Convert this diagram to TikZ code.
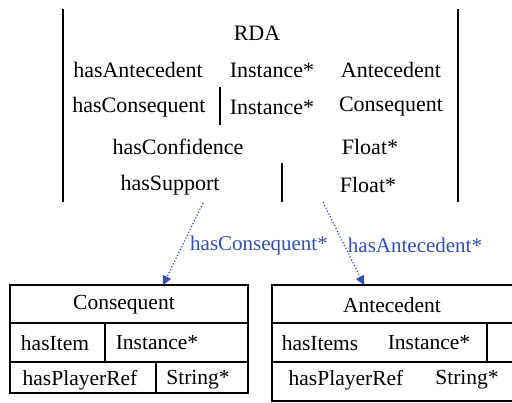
\documentclass[tikz,border=0pt]{standalone}
\usepackage{fontspec}
\setmainfont{Liberation Serif}
\usetikzlibrary{arrows.meta}
\definecolor{linkblue}{RGB}{52,78,176}
\begin{document}
\begin{tikzpicture}[x=1pt,y=-1pt,
  line width=1.6pt,
  toptext/.style={font=\fontsize{22}{24}\selectfont, inner sep=0pt, anchor=center},
  bottext/.style={font=\fontsize{21.5}{23}\selectfont, inner sep=0pt, anchor=center},
  linktext/.style={font=\fontsize{21}{23}\selectfont, text=linkblue, inner sep=0pt, anchor=center},
  link/.style={draw=linkblue, line width=1.2pt, dotted, -{Triangle[length=9pt,width=9pt]}},
  tbox/.style={draw, line width=1.6pt, inner sep=0pt, minimum width=#1, minimum height=108pt}
]
\useasboundingbox (0,0) rectangle (512,403);
% top table
\draw (63,9) -- (63,202);
\draw (458,9) -- (458,202);
\draw (220,87) -- (220,125);
\draw (282,163) -- (282,202);
\node[toptext] (rda) at (257,33) {RDA};
\node[toptext] (r1a) at (138,70) {hasAntecedent};
\node[toptext] (r1b) at (272,70) {Instance*};
\node[toptext] (r1c) at (391,70) {Antecedent};
\node[toptext] (r2a) at (139,107) {hasConsequent};
\node[toptext] (r2b) at (272,107) {Instance*};
\node[toptext] (r2c) at (391,107) {Consequent};
\node[toptext] (r3a) at (178,147) {hasConfidence};
\node[toptext] (r3b) at (370,147) {Float*};
\node[toptext] (r4a) at (170,185) {hasSupport};
\node[toptext] (r4b) at (368,185) {Float*};
% Consequent box
\node[tbox=238pt] (cbox) at (129,339) {};
\draw (10,323) -- (248,323);
\draw (10,362) -- (248,362);
\draw (105,323) -- (105,362);
\draw (156,362) -- (156,393);
\node[bottext] (ct) at (124,305) {Consequent};
\node[bottext] (c1a) at (55,343) {hasItem};
\node[bottext] (c1b) at (157,343) {Instance*};
\node[bottext] (c2a) at (80,380) {hasPlayerRef};
\node[bottext] (c2b) at (198,380) {String*};
% Antecedent box
\draw (520,285) -- (272,285) -- (272,401) -- (520,401);
\draw (272,323) -- (520,323);
\draw (272,362) -- (520,362);
\draw (487,323) -- (487,362);
\node[bottext] (at) at (392,305) {Antecedent};
\node[bottext] (a1a) at (320,343) {hasItems};
\node[bottext] (a1b) at (429,343) {Instance*};
\node[bottext] (a2a) at (346,380) {hasPlayerRef};
\node[bottext] (a2b) at (467,380) {String*};
% links
\coordinate (s1) at (203,203);
\coordinate (t1) at (163,285);
\coordinate (s2) at (323,202);
\coordinate (t2) at (364,285);
\draw[link] (s1) -- (t1);
\draw[link] (s2) -- (t2);
\node[linktext] (l1) at (259,245) {hasConsequent*};
\node[linktext] (l2) at (415,245) {hasAntecedent*};
\end{tikzpicture}
\end{document}
